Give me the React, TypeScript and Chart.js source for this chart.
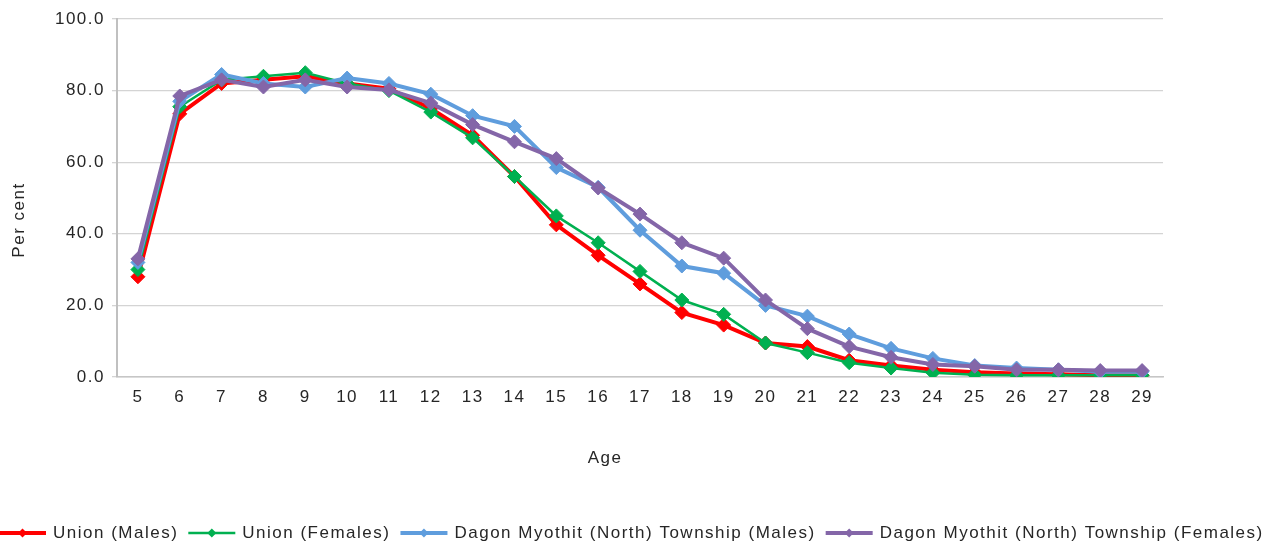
import React, { useEffect, useRef } from "react";
import { Chart, registerables } from "chart.js";

Chart.register(...registerables);

const ages = ["5","6","7","8","9","10","11","12","13","14","15","16","17","18","19","20","21","22","23","24","25","26","27","28","29"];

const unionMales = [28, 73.5, 82, 83, 84, 82, 80.5, 75, 67.5, 56, 42.5, 34, 26, 18, 14.5, 9.5, 8.5, 4.7, 3.2, 2, 1.3, 1, 0.8, 0.5, 0.5];
const unionFemales = [30, 75.5, 83, 84, 85, 82, 80, 74, 66.8, 56, 45, 37.5, 29.5, 21.5, 17.5, 9.5, 6.8, 4, 2.5, 1.2, 0.6, 0.5, 0.5, 0.5, 0.5];
const dagonMales = [32, 77, 84.5, 82, 81, 83.5, 82, 79, 73, 70, 58.5, 53, 41, 31, 29, 20, 17, 12, 8, 5.2, 3.2, 2.5, 2, 1.5, 1.5];
const dagonFemales = [33, 78.5, 83, 81, 83, 81, 80.2, 76.5, 70.5, 65.7, 61, 52.8, 45.5, 37.5, 33.2, 21.5, 13.5, 8.5, 5.5, 3.5, 3, 2, 2, 1.8, 1.8];

const seriesLabels = [
  "Union (Males)",
  "Union (Females)",
  "Dagon Myothit (North) Township (Males)",
  "Dagon Myothit (North) Township (Females)",
];
const yTicks = [0, 20, 40, 60, 80, 100];
const xTitle = "Age";
const yTitle = "Per cent";

const FONT = "'Liberation Sans', Arial, sans-serif";
const FSIZE = 17;
const SPACING = "1.5px";
const TEXT = "#262626";

function setSpacing(c: any) {
  try { c.ctx.letterSpacing = SPACING; } catch (e) {}
}

const spacingPlugin = {
  id: "spacing",
  beforeUpdate: (c: any) => setSpacing(c),
  beforeLayout: (c: any) => setSpacing(c),
  beforeDraw: (c: any) => setSpacing(c),
};

function diamond(ctx: CanvasRenderingContext2D, x: number, y: number, r: number) {
  ctx.beginPath();
  ctx.moveTo(x, y - r);
  ctx.lineTo(x + r, y);
  ctx.lineTo(x, y + r);
  ctx.lineTo(x - r, y);
  ctx.closePath();
  ctx.fill();
}

const decorPlugin = {
  id: "decor",
  afterDraw: (c: any) => {
    const ctx: CanvasRenderingContext2D = c.ctx;
    ctx.save();
    (ctx as any).letterSpacing = SPACING;
    ctx.fillStyle = TEXT;
    ctx.font = `${FSIZE}px ${FONT}`;
    ctx.textAlign = "center";
    ctx.textBaseline = "middle";
    // x axis title
    ctx.fillText(xTitle, 605, 458);
    // y axis title
    ctx.save();
    ctx.translate(19, 220);
    ctx.rotate(-Math.PI / 2);
    ctx.fillText(yTitle, 0, 0);
    ctx.restore();

    // legend
    const y = 533;
    let x = -1;
    const lineLen = 47;
    ctx.textAlign = "left";
    c.data.datasets.forEach((ds: any) => {
      ctx.strokeStyle = ds.borderColor;
      ctx.lineWidth = ds.borderWidth;
      ctx.beginPath();
      ctx.moveTo(x, y);
      ctx.lineTo(x + lineLen, y);
      ctx.stroke();
      ctx.fillStyle = ds.borderColor;
      diamond(ctx, x + lineLen / 2, y, 4.5);
      x += lineLen + 7;
      ctx.fillStyle = TEXT;
      ctx.fillText(ds.label, x, y);
      x += ctx.measureText(ds.label).width + 10;
    });
    ctx.restore();
  },
};

export default function App() {
  const ref = useRef<HTMLCanvasElement | null>(null);
  useEffect(() => {
    document.body.style.margin = "0";
    const canvas = ref.current!;
    const mk = (label: string, data: number[], color: string, width: number, order: number) => ({
      label,
      data,
      borderColor: color,
      backgroundColor: color,
      borderWidth: width,
      pointStyle: "rectRot",
      pointRadius: 7,
      pointBorderWidth: 1,
      pointBackgroundColor: color,
      pointBorderColor: color,
      tension: 0,
      order,
    });
    const chart = new Chart(canvas, {
      type: "line",
      data: {
        labels: ages,
        datasets: [
          mk(seriesLabels[0], unionMales, "#ff0000", 4, 4),
          mk(seriesLabels[1], unionFemales, "#00b050", 2.5, 3),
          mk(seriesLabels[2], dagonMales, "#5f9ddd", 4, 2),
          mk(seriesLabels[3], dagonFemales, "#8466a8", 4, 1),
        ],
      },
      options: {
        animation: false,
        responsive: false,
        maintainAspectRatio: false,
        devicePixelRatio: 1,
        layout: { padding: { left: 0, right: 123, top: 19, bottom: 0 } },
        plugins: {
          legend: { display: false },
          tooltip: { enabled: false },
        },
        scales: {
          x: {
            offset: true,
            grid: { display: false, drawTicks: false },
            border: { display: true, color: "#c6c6c6", width: 1.5 },
            ticks: {
              padding: 10,
              color: TEXT,
              font: { family: FONT, size: FSIZE },
              maxRotation: 0,
              autoSkip: false,
            },
            afterFit: (s: any) => { s.height = 172; },
          },
          y: {
            min: 0,
            max: 100,
            afterBuildTicks: (s: any) => { s.ticks = yTicks.map((v) => ({ value: v })); },
            grid: { color: "#d4d4d4", lineWidth: 1.3, tickLength: 5, drawTicks: true },
            border: { display: true, color: "#c0c0c0", width: 2 },
            ticks: {
              padding: 7,
              color: TEXT,
              font: { family: FONT, size: FSIZE },
              callback: (v: any) => Number(v).toFixed(1),
            },
            afterFit: (s: any) => { s.width = 117; },
          },
        },
      },
      plugins: [spacingPlugin, decorPlugin],
    } as any);
    return () => chart.destroy();
  }, []);
  return (
    <div style={{ width: 1286, height: 549 }}>
      <canvas ref={ref} width={1286} height={549} style={{ display: "block", width: 1286, height: 549 }} />
    </div>
  );
}
